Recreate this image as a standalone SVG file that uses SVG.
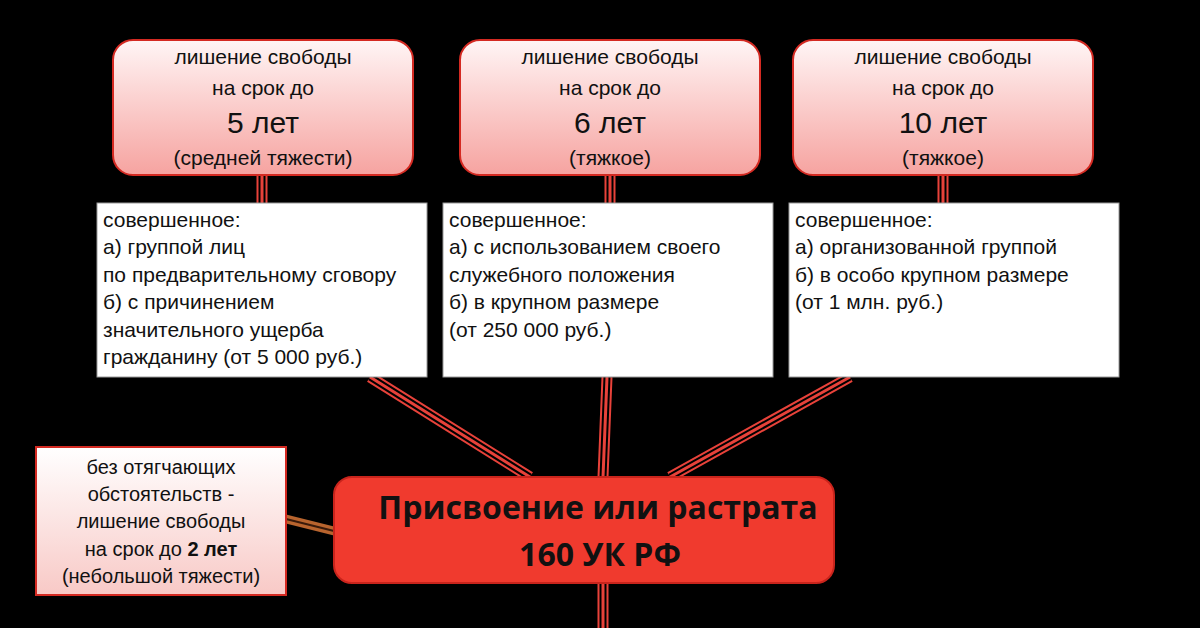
<svg xmlns="http://www.w3.org/2000/svg" width="1200" height="628" viewBox="0 0 1200 628">
<defs>
<linearGradient id="tg" x1="0" y1="0" x2="0" y2="1"><stop offset="0" stop-color="#fff5f5"/><stop offset="1" stop-color="#f6a3a0"/></linearGradient>
<linearGradient id="lg" x1="0" y1="0" x2="0" y2="1"><stop offset="0" stop-color="#ffffff"/><stop offset="1" stop-color="#f8c9c6"/></linearGradient>
<style>
.t{font-family:"Liberation Sans",Arial,sans-serif;fill:#111;font-size:21px}
.c{text-anchor:middle}
.big{font-size:30px}
.w{fill:#fff;stroke:#999;stroke-width:1}
.top{fill:url(#tg);stroke:#d42a22;stroke-width:2}
.a{fill:none;stroke:#e8423a;stroke-width:11}
.b{fill:none;stroke:#000;stroke-width:7}
.r{fill:none;stroke:#e8423a;stroke-width:3}
</style>
</defs>
<rect width="1200" height="628" fill="#000"/>
<g id="connectors">
<path id="p1" class="a" d="M262 175V203M610 175V203M943 175V203M370 377L530 477M607 377L603 477M603 583V628M850 377L670 477"/>
<path class="b" d="M262 175V203M610 175V203M943 175V203M370 377L530 477M607 377L603 477M603 583V628M850 377L670 477"/>
<path class="r" d="M262 175V203M610 175V203M943 175V203M370 377L530 477M607 377L603 477M603 583V628M850 377L670 477"/>
<path d="M286 519L334 531" stroke="#b8642e" stroke-width="9"/>
<path d="M286 519L334 531" stroke="#3a1a0a" stroke-width="2"/>
</g>
<g id="n1"><rect class="top" x="113" y="40" width="300" height="135" rx="20"/>
<text class="t c" x="263" y="64">лишение свободы</text><text class="t c" x="263" y="95">на срок до</text><text class="t c big" x="263" y="133">5 лет</text><text class="t c" x="263" y="165">(средней тяжести)</text></g>
<g id="n2"><rect class="top" x="460" y="40" width="300" height="135" rx="20"/>
<text class="t c" x="610" y="64">лишение свободы</text><text class="t c" x="610" y="95">на срок до</text><text class="t c big" x="610" y="133">6 лет</text><text class="t c" x="610" y="165">(тяжкое)</text></g>
<g id="n3"><rect class="top" x="793" y="40" width="300" height="135" rx="20"/>
<text class="t c" x="943" y="64">лишение свободы</text><text class="t c" x="943" y="95">на срок до</text><text class="t c big" x="943" y="133">10 лет</text><text class="t c" x="943" y="165">(тяжкое)</text></g>
<g id="w1"><rect class="w" x="97" y="203" width="330" height="174"/>
<text class="t" x="103" y="227">совершенное:</text><text class="t" x="103" y="254">а) группой лиц</text><text class="t" x="103" y="282">по предварительному сговору</text><text class="t" x="103" y="309">б) с причинением</text><text class="t" x="103" y="337">значительного ущерба</text><text class="t" x="103" y="364">гражданину (от 5 000 руб.)</text></g>
<g id="w2"><rect class="w" x="443" y="203" width="330" height="174"/>
<text class="t" x="449" y="227">совершенное:</text><text class="t" x="449" y="254">а) с использованием своего</text><text class="t" x="449" y="282">служебного положения</text><text class="t" x="449" y="309">б) в крупном размере</text><text class="t" x="449" y="337">(от 250 000 руб.)</text></g>
<g id="w3"><rect class="w" x="789" y="203" width="330" height="174"/>
<text class="t" x="795" y="227">совершенное:</text><text class="t" x="795" y="254">а) организованной группой</text><text class="t" x="795" y="282">б) в особо крупном размере</text><text class="t" x="795" y="309">(от 1 млн. руб.)</text></g>
<g id="left"><rect x="36" y="447" width="250" height="148" fill="url(#lg)" stroke="#d42a22" stroke-width="2"/>
<g class="t c" style="font-size:20px"><text x="161" y="474">без отягчающих</text><text x="161" y="501">обстоятельств -</text><text x="161" y="528">лишение свободы</text><text x="161" y="556">на срок до <tspan font-weight="bold">2 лет</tspan></text><text x="161" y="583">(небольшой тяжести)</text></g></g>
<g id="center"><rect x="334" y="477" width="500" height="106" rx="18" fill="#f03a2e" stroke="#c9241c" stroke-width="2"/>
<text x="598" y="519" text-anchor="middle" font-family="'Open Sans',sans-serif" font-weight="bold" font-size="32" fill="#111">Присвоение или растрата</text>
<text x="600" y="566" text-anchor="middle" font-family="'Open Sans',sans-serif" font-weight="bold" font-size="32" fill="#111">160 УК РФ</text></g>
</svg>
